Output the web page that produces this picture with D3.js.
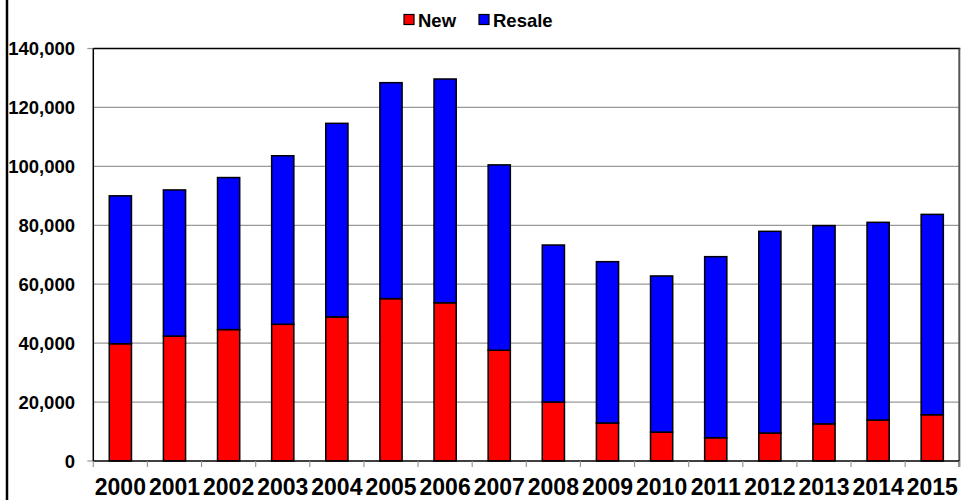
<!DOCTYPE html>
<html><head><meta charset="utf-8">
<script src="https://cdn.jsdelivr.net/npm/d3@7"></script>
<style>body{margin:0;background:#fff}svg{display:block}text{font-family:"Liberation Sans",Arial,sans-serif;font-weight:bold;fill:#000}</style>
</head><body><svg id="c" width="961" height="500"></svg>
<script>
const years = ["2000","2001","2002","2003","2004","2005","2006","2007","2008","2009","2010","2011","2012","2013","2014","2015"];
const newSales = [39800,42400,44600,46400,48900,55100,53700,37600,20000,12900,9800,7900,9500,12600,13900,15700];
const resaleSales = [50200,49600,51600,57200,65700,73300,75950,62900,53300,54750,53000,61450,68450,67300,67100,68000];
const yTicks = [0,20000,40000,60000,80000,100000,120000,140000];
const seriesNames = ["New","Resale"];
const seriesColors = ["#ff0000","#0000ff"];

const svg = d3.select("#c");
const L = 93.3, R = 959.3, T = 48.5, B = 461;
const x = d3.scaleBand().domain(years).range([L, R]).paddingInner(0.59).paddingOuter(0.295);
const y = d3.scaleLinear().domain([0,140000]).range([B, T]);

// outer frame left line
svg.append("line").attr("x1",7).attr("x2",7).attr("y1",0).attr("y2",500).attr("stroke","#000").attr("stroke-width",2.5);

// gridlines
svg.append("g").selectAll("line").data(yTicks.slice(1,-1)).join("line")
  .attr("x1",L).attr("x2",R).attr("y1",d=>y(d)).attr("y2",d=>y(d))
  .attr("stroke","#999").attr("stroke-width",1.2);

// y labels
svg.append("g").selectAll("text").data(yTicks).join("text")
  .attr("x",75).attr("y",d=>y(d)+6.5).attr("text-anchor","end").attr("font-size",18.5)
  .text(d=>d3.format(",")(d));

// y ticks at 0 and top
svg.append("g").selectAll("line").data([0,140000]).join("line")
  .attr("x1",L-6).attr("x2",L).attr("y1",d=>y(d)).attr("y2",d=>y(d))
  .attr("stroke","#999").attr("stroke-width",1.2);

// stacked bars
const stackData = years.map((yr,i)=>({year:yr, New:newSales[i], Resale:resaleSales[i]}));
const stacked = d3.stack().keys(seriesNames)(stackData);
svg.append("g").selectAll("g").data(stacked).join("g")
  .attr("fill",(d,i)=>seriesColors[i])
  .selectAll("rect").data(d=>d).join("rect")
  .attr("x",d=>x(d.data.year)).attr("width",x.bandwidth())
  .attr("y",d=>y(d[1])).attr("height",d=>y(d[0])-y(d[1]))
  .attr("stroke","#000").attr("stroke-width",1.5);

// plot border
svg.append("line").attr("x1",L).attr("x2",R+1).attr("y1",T).attr("y2",T).attr("stroke","#000").attr("stroke-width",1.5);
svg.append("line").attr("x1",L).attr("x2",L).attr("y1",T).attr("y2",B).attr("stroke","#000").attr("stroke-width",1.5);
svg.append("line").attr("x1",R).attr("x2",R).attr("y1",T).attr("y2",B+6).attr("stroke","#555").attr("stroke-width",2);
svg.append("line").attr("x1",L).attr("x2",R).attr("y1",B).attr("y2",B).attr("stroke","#000").attr("stroke-width",1.5);

// x ticks
const tickXs = years.map(d=>x(d)-x.step()*x.paddingOuter()).concat([R]);
svg.append("g").selectAll("line").data(tickXs).join("line")
  .attr("x1",d=>d).attr("x2",d=>d).attr("y1",B).attr("y2",B+6)
  .attr("stroke","#999").attr("stroke-width",1.2);

// x labels
svg.append("g").selectAll("text").data(years).join("text")
  .attr("x",d=>x(d)+x.bandwidth()/2).attr("y",495).attr("text-anchor","middle").attr("font-size",23)
  .text(d=>d);

// legend
const leg = svg.append("g");
const legX = [404, 479];
seriesNames.forEach((n,i)=>{
  leg.append("rect").attr("x",legX[i]).attr("y",14.5).attr("width",10).attr("height",10)
    .attr("fill",seriesColors[i]).attr("stroke","#000").attr("stroke-width",1.2);
  leg.append("text").attr("x",legX[i]+14).attr("y",27).attr("font-size",18.5).text(n);
});
</script></body></html>
